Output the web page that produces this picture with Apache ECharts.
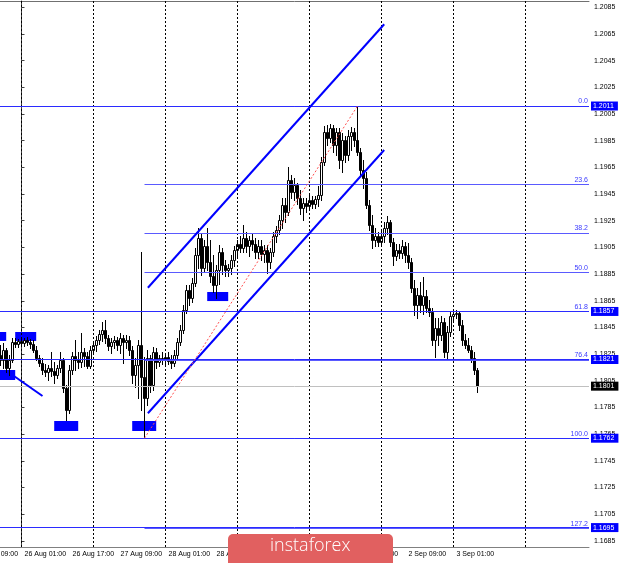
<!DOCTYPE html>
<html><head><meta charset="utf-8">
<script src="https://cdn.jsdelivr.net/npm/echarts@6/dist/echarts.min.js"></script>
<style>html,body{margin:0;padding:0;background:#fff}#c{width:620px;height:563px}</style>
</head><body><div id="c"></div>
<script>
// ---------- DATA ----------
// hour index counted in trading hours from 26 Aug 00:00 (weekend removed)
const firstBarHour = -7;
// [open, high, low, close]
const ohlc = [
[1.18244,1.18319,1.18169,1.18206],[1.18206,1.18334,1.18146,1.18281],[1.18281,1.18296,1.18116,1.18146],[1.18146,1.18244,1.18094,1.18206],
[1.18206,1.18371,1.18191,1.18341],[1.18341,1.18371,1.18304,1.18326],[1.18326,1.18364,1.18304,1.18349],[1.18349,1.18371,1.18311,1.18334],
[1.18334,1.18371,1.18311,1.18356],[1.18356,1.18379,1.18319,1.18341],[1.18341,1.18364,1.18296,1.18326],[1.18326,1.18356,1.18266,1.18281],
[1.18281,1.18311,1.18206,1.18221],[1.18221,1.18244,1.18161,1.18184],[1.18184,1.18221,1.18101,1.18131],[1.18131,1.18176,1.18086,1.18116],
[1.18116,1.18169,1.18056,1.18146],[1.18146,1.18266,1.18086,1.18124],[1.18124,1.18191,1.18034,1.18094],[1.18094,1.18169,1.18071,1.18146],
[1.18146,1.18266,1.18116,1.18206],[1.18206,1.18221,1.17966,1.17996],[1.17996,1.18019,1.17756,1.17831],[1.17831,1.18169,1.17809,1.18131],
[1.18131,1.18266,1.18101,1.18236],[1.18236,1.18356,1.18131,1.18206],[1.18206,1.18266,1.18146,1.18191],[1.18191,1.18409,1.18154,1.18266],
[1.18266,1.18296,1.18161,1.18236],[1.18236,1.18266,1.18146,1.18161],[1.18161,1.18311,1.18146,1.18281],[1.18281,1.18341,1.18251,1.18319],
[1.18319,1.18386,1.18274,1.18356],[1.18356,1.18431,1.18326,1.18401],[1.18401,1.18491,1.18349,1.18431],[1.18431,1.18506,1.18334,1.18371],
[1.18371,1.18394,1.18281,1.18311],[1.18311,1.18371,1.18259,1.18341],[1.18341,1.18386,1.18296,1.18356],[1.18356,1.18379,1.18281,1.18319],
[1.18319,1.18409,1.18259,1.18371],[1.18371,1.18394,1.18184,1.18341],[1.18341,1.18394,1.18296,1.18356],[1.18356,1.18386,1.18244,1.18281],
[1.18281,1.18311,1.18034,1.18094],[1.18094,1.18221,1.18004,1.18169],[1.18169,1.18356,1.17921,1.18319],[1.18319,1.19016,1.17831,1.18079],
[1.18079,1.18229,1.17620,1.17921],[1.17921,1.18281,1.17869,1.18221],[1.18221,1.18244,1.17966,1.18019],[1.18019,1.18304,1.17981,1.18266],
[1.18266,1.18296,1.18146,1.18191],[1.18191,1.18244,1.18161,1.18221],[1.18221,1.18266,1.18176,1.18206],[1.18206,1.18244,1.18161,1.18229],
[1.18229,1.18266,1.18176,1.18199],[1.18199,1.18244,1.18146,1.18184],[1.18184,1.18281,1.18161,1.18244],[1.18244,1.18371,1.18221,1.18341],
[1.18341,1.18469,1.18319,1.18431],[1.18431,1.18618,1.18409,1.18581],[1.18581,1.18768,1.18558,1.18731],[1.18731,1.18768,1.18618,1.18671],
[1.18671,1.18821,1.18641,1.18783],[1.18783,1.19046,1.18761,1.18993],[1.18993,1.19196,1.18896,1.19121],[1.19121,1.19158,1.18843,1.18896],
[1.18896,1.19106,1.18866,1.19061],[1.19061,1.19196,1.18881,1.18941],[1.18941,1.19106,1.18791,1.18836],[1.18836,1.18993,1.18716,1.18768],
[1.18768,1.18918,1.18671,1.18881],[1.18881,1.19068,1.18776,1.19016],[1.19016,1.19046,1.18851,1.18918],[1.18918,1.18956,1.18836,1.18881],
[1.18881,1.18926,1.18836,1.18896],[1.18896,1.18993,1.18851,1.18956],[1.18956,1.19061,1.18911,1.19031],[1.19031,1.19106,1.18986,1.19076],
[1.19076,1.19136,1.19016,1.19046],[1.19046,1.19218,1.19016,1.19121],[1.19121,1.19166,1.19016,1.19061],[1.19061,1.19136,1.18986,1.19106],
[1.19106,1.19151,1.19031,1.19076],[1.19076,1.19121,1.18971,1.19016],[1.19016,1.19106,1.18971,1.19061],[1.19061,1.19106,1.18956,1.19001],
[1.19001,1.19068,1.18941,1.19031],[1.19031,1.19068,1.18858,1.18941],[1.18941,1.19046,1.18896,1.19016],[1.19016,1.19166,1.18986,1.19136],
[1.19136,1.19211,1.19091,1.19181],[1.19181,1.19293,1.19151,1.19256],[1.19256,1.19420,1.19196,1.19368],[1.19368,1.19420,1.19241,1.19316],
[1.19316,1.19653,1.19293,1.19555],[1.19555,1.19593,1.19420,1.19465],[1.19465,1.19570,1.19405,1.19518],[1.19518,1.19533,1.19375,1.19420],
[1.19420,1.19480,1.19301,1.19345],[1.19345,1.19420,1.19256,1.19383],[1.19383,1.19420,1.19316,1.19360],[1.19360,1.19443,1.19330,1.19405],
[1.19405,1.19435,1.19345,1.19375],[1.19375,1.19435,1.19345,1.19413],[1.19413,1.19510,1.19360,1.19443],[1.19443,1.19728,1.19405,1.19690],
[1.19690,1.19960,1.19668,1.19915],[1.19915,1.19968,1.19818,1.19870],[1.19870,1.19975,1.19840,1.19945],[1.19945,1.19968,1.19765,1.19818],
[1.19818,1.19945,1.19743,1.19915],[1.19915,1.19945,1.19645,1.19705],[1.19705,1.19908,1.19615,1.19855],[1.19855,1.19885,1.19690,1.19743],
[1.19743,1.19930,1.19705,1.19885],[1.19885,1.19953,1.19780,1.19915],[1.19915,1.19945,1.19810,1.19855],[1.19855,1.20103,1.19743,1.19765],
[1.19765,1.19795,1.19593,1.19630],[1.19630,1.19705,1.19495,1.19570],[1.19570,1.19615,1.19345,1.19368],[1.19368,1.19405,1.19181,1.19218],
[1.19218,1.19293,1.19046,1.19106],[1.19106,1.19196,1.19061,1.19136],[1.19136,1.19166,1.19061,1.19091],[1.19091,1.19181,1.19068,1.19136],
[1.19136,1.19241,1.19091,1.19196],[1.19196,1.19286,1.19151,1.19241],[1.19241,1.19256,1.19061,1.19091],[1.19091,1.19121,1.18918,1.18986],
[1.18986,1.19076,1.18956,1.19031],[1.19031,1.19076,1.18971,1.19008],[1.19008,1.19106,1.18971,1.19061],[1.19061,1.19091,1.18941,1.18993],
[1.18993,1.19083,1.18896,1.18941],[1.18941,1.18971,1.18716,1.18746],[1.18746,1.18806,1.18543,1.18618],[1.18618,1.18746,1.18521,1.18693],
[1.18693,1.18791,1.18566,1.18618],[1.18618,1.18828,1.18551,1.18686],[1.18686,1.18731,1.18566,1.18596],[1.18596,1.18656,1.18536,1.18566],
[1.18566,1.18596,1.18319,1.18356],[1.18356,1.18521,1.18229,1.18446],[1.18446,1.18521,1.18319,1.18394],[1.18394,1.18536,1.18356,1.18491],
[1.18491,1.18521,1.18229,1.18266],[1.18266,1.18461,1.18221,1.18416],[1.18416,1.18566,1.18386,1.18536],[1.18536,1.18581,1.18491,1.18551],
[1.18551,1.18581,1.18521,1.18558],[1.18558,1.18573,1.18431,1.18469],[1.18469,1.18506,1.18319,1.18356],[1.18356,1.18401,1.18296,1.18319],
[1.18319,1.18371,1.18266,1.18281],[1.18281,1.18311,1.18191,1.18221],[1.18221,1.18266,1.18101,1.18131],[1.18131,1.18146,1.17966,1.18010]
];
const xLabelHours = [-15, 1, 17, 33, 49, 65, 81, 97, 113, 129, 145];
const xLabelTexts = ['25 Aug 09:00','26 Aug 01:00','26 Aug 17:00','27 Aug 09:00','28 Aug 01:00','28 Aug 17:00',
                     '31 Aug 09:00','1 Sep 01:00','1 Sep 17:00','2 Sep 09:00','3 Sep 01:00'];
const dayStartHours = [0, 24, 48, 72, 96, 120, 144, 168];
const yTickLabels = [1.1685,1.1705,1.1725,1.1745,1.1765,1.1785,1.1805,1.1825,1.1845,1.1865,1.1885,
                     1.1905,1.1925,1.1945,1.1965,1.1985,1.2005,1.2025,1.2045,1.2065,1.2085];
const fibLevels = [0.0, 23.6, 38.2, 50.0, 61.8, 76.4, 100.0, 127.2];
const fibHigh = 1.2011, fibLow = 1.1762, fibStartHour = 41;
const levelLines = [1.2011, 1.1857, 1.1821, 1.1762, 1.1695];
const bidPrice = 1.1801;
const channelUpper = [[42.13, 1.18748], [120.9, 1.20723]];
const channelLower = [[42.13, 1.17807], [120.9, 1.19780]];
const fibTrend = [[41, 1.1762], [112, 1.2011]];
const slopeLine = [[-3, 1.18094], [7, 1.17936]];
const boxes = [
  [[-10, 1.18416], [-5.1, 1.18349]],
  [[-2.1, 1.18416], [4.9, 1.18349]],
  [[-10, 1.18131], [-2.1, 1.18056]],
  [[10.9, 1.17749], [18.9, 1.17674]],
  [[36.9, 1.17749], [44.9, 1.17674]],
  [[61.9, 1.18716], [68.9, 1.18648]]
];

// ---------- CHART ----------
const X_MIN = -7.1667, X_MAX = 189.1667;
const Y_MIN = 1.168044, Y_MAX = 1.208972;
const FONT = 'Liberation Sans';
const chart = echarts.init(document.getElementById('c'), null, {renderer: 'canvas'});

const candleData = ohlc.map((r, i) => [firstBarHour + i, r[0], r[1], r[2], r[3]]);

function renderCandle(params, api) {
  const x = api.value(0), o = api.value(1), h = api.value(2), l = api.value(3), c = api.value(4);
  const pH = api.coord([x, h]), pL = api.coord([x, l]);
  const pO = api.coord([x, o]), pC = api.coord([x, c]);
  const cx = Math.floor(pH[0]) + 0.5;
  const top = Math.round(Math.min(pO[1], pC[1])) + 0.5;
  const bot = Math.round(Math.max(pO[1], pC[1])) + 0.5;
  const up = c >= o;
  return {
    type: 'group',
    children: [
      {type: 'line', shape: {x1: cx, y1: Math.round(pH[1]), x2: cx, y2: Math.round(pL[1]) + 1},
       style: {stroke: '#000', lineWidth: 1}},
      {type: 'rect', shape: {x: cx - 1, y: top, width: 2, height: Math.max(bot - top, 0)},
       style: {fill: up ? '#fff' : '#000', stroke: '#000', lineWidth: 1}}
    ]
  };
}

const lbl = {fontFamily: FONT, fontSize: 7, color: '#000'};
const fibColor = '#5a5aff', lvlColor = '#2b2bff';

const fibMarks = fibLevels.map(f => {
  const v = fibHigh - (fibHigh - fibLow) * f / 100;
  return [
    {coord: [fibStartHour, v], lineStyle: {color: fibColor, width: 1, type: 'solid'},
     label: {show: true, position: 'insideEndTop', formatter: f.toFixed(1), color: '#3b3bff',
             fontFamily: FONT, fontSize: 7, distance: [1, 1], padding: 0}},
    {coord: [X_MAX, v]}
  ];
});

const priceTag = (v, bg, lineColor) => [
  {coord: [X_MIN, v], lineStyle: {color: lineColor, width: 1, type: 'solid'},
   label: {show: true, position: 'end', formatter: v.toFixed(4), color: '#fff', backgroundColor: bg,
           fontFamily: FONT, fontSize: 7, padding: [1, 4, 1, 2], distance: 2}},
  {coord: [X_MAX, v]}
];

const lineSeries = (data, color, width, type) => ({
  type: 'line', data, symbol: 'none', silent: true, animation: false, z: 5,
  lineStyle: {color, width, type}, clip: true
});

const option = {
  animation: false,
  backgroundColor: '#fff',
  grid: {left: 0, right: 31, top: 1, bottom: 16},
  xAxis: [{
    type: 'value', min: X_MIN, max: X_MAX, position: 'bottom',
    axisLine: {show: true, lineStyle: {color: '#808080', width: 1}},
    axisTick: {show: false},
    splitLine: {show: false},
    axisLabel: {
      customValues: xLabelHours.filter(v => v >= X_MIN && v <= X_MAX),
      formatter: v => xLabelTexts[xLabelHours.indexOf(v)],
      align: 'left', margin: 4, ...lbl
    }
  }, {
    type: 'value', min: X_MIN, max: X_MAX, position: 'top',
    axisLine: {show: true, lineStyle: {color: '#707070', width: 1}},
    axisTick: {show: false}, axisLabel: {show: false}, splitLine: {show: false}
  }],
  yAxis: {
    type: 'value', position: 'right', min: Y_MIN, max: Y_MAX, scale: true,
    axisLine: {show: true, lineStyle: {color: '#404040', width: 1}},
    axisTick: {show: true, customValues: yTickLabels, length: 3, lineStyle: {color: '#404040'}},
    splitLine: {show: false},
    axisLabel: {customValues: yTickLabels, formatter: v => v.toFixed(4), margin: 5, ...lbl}
  },
  series: [
    { // day separators
      type: 'line', data: [], silent: true, z: 1,
      markLine: {symbol: 'none', silent: true, animation: false, label: {show: false}, precision: 6,
        lineStyle: {color: '#000', width: 1, type: [2, 2]},
        data: dayStartHours.map(h => ({xAxis: h}))}
    },
    { // rectangles
      type: 'line', data: [], silent: true, z: 2,
      markArea: {silent: true, animation: false, itemStyle: {color: '#0000ff', opacity: 1},
        data: boxes.map(b => [{coord: b[0]}, {coord: b[1]}])}
    },
    { // horizontal levels + fibo + bid
      type: 'line', data: [], silent: true, z: 2,
      markLine: {symbol: 'none', silent: true, animation: false, precision: 6,
        data: [
          ...fibMarks,
          priceTag(bidPrice, '#000', '#c0c0c0'),
          ...levelLines.map(v => priceTag(v, '#0000ff', lvlColor))
        ]}
    },
    {
      type: 'custom', renderItem: renderCandle, data: candleData, z: 4, clip: true,
      encode: {x: 0, y: [1, 2, 3, 4]}, silent: true, animation: false
    },
    lineSeries(channelUpper, '#0000ff', 2, 'solid'),
    lineSeries(channelLower, '#0000ff', 2, 'solid'),
    lineSeries(slopeLine, '#0000ff', 2, 'solid'),
    lineSeries(fibTrend, '#ff5050', 1, [2, 2])
  ]
};
chart.setOption(option);

// partially visible first time label + watermark
const px0 = chart.convertToPixel({xAxisIndex: 0}, xLabelHours[0]);
chart.setOption({
  graphic: [
    {type: 'text', left: px0, top: 551, z: 50,
     style: {text: xLabelTexts[0], fontFamily: FONT, fontSize: 7, fill: '#000'}},
    {type: 'rect', left: 228, top: 534, z: 100,
     shape: {width: 165, height: 29, r: [5, 5, 0, 0]}, style: {fill: '#e16060'}},
    {type: 'text', left: 270, top: 537, z: 101,
     style: {text: 'instaforex', fontFamily: 'Open Sans', fontSize: 18, fill: '#fff', fontWeight: 300}}
  ]
});
</script></body></html>
